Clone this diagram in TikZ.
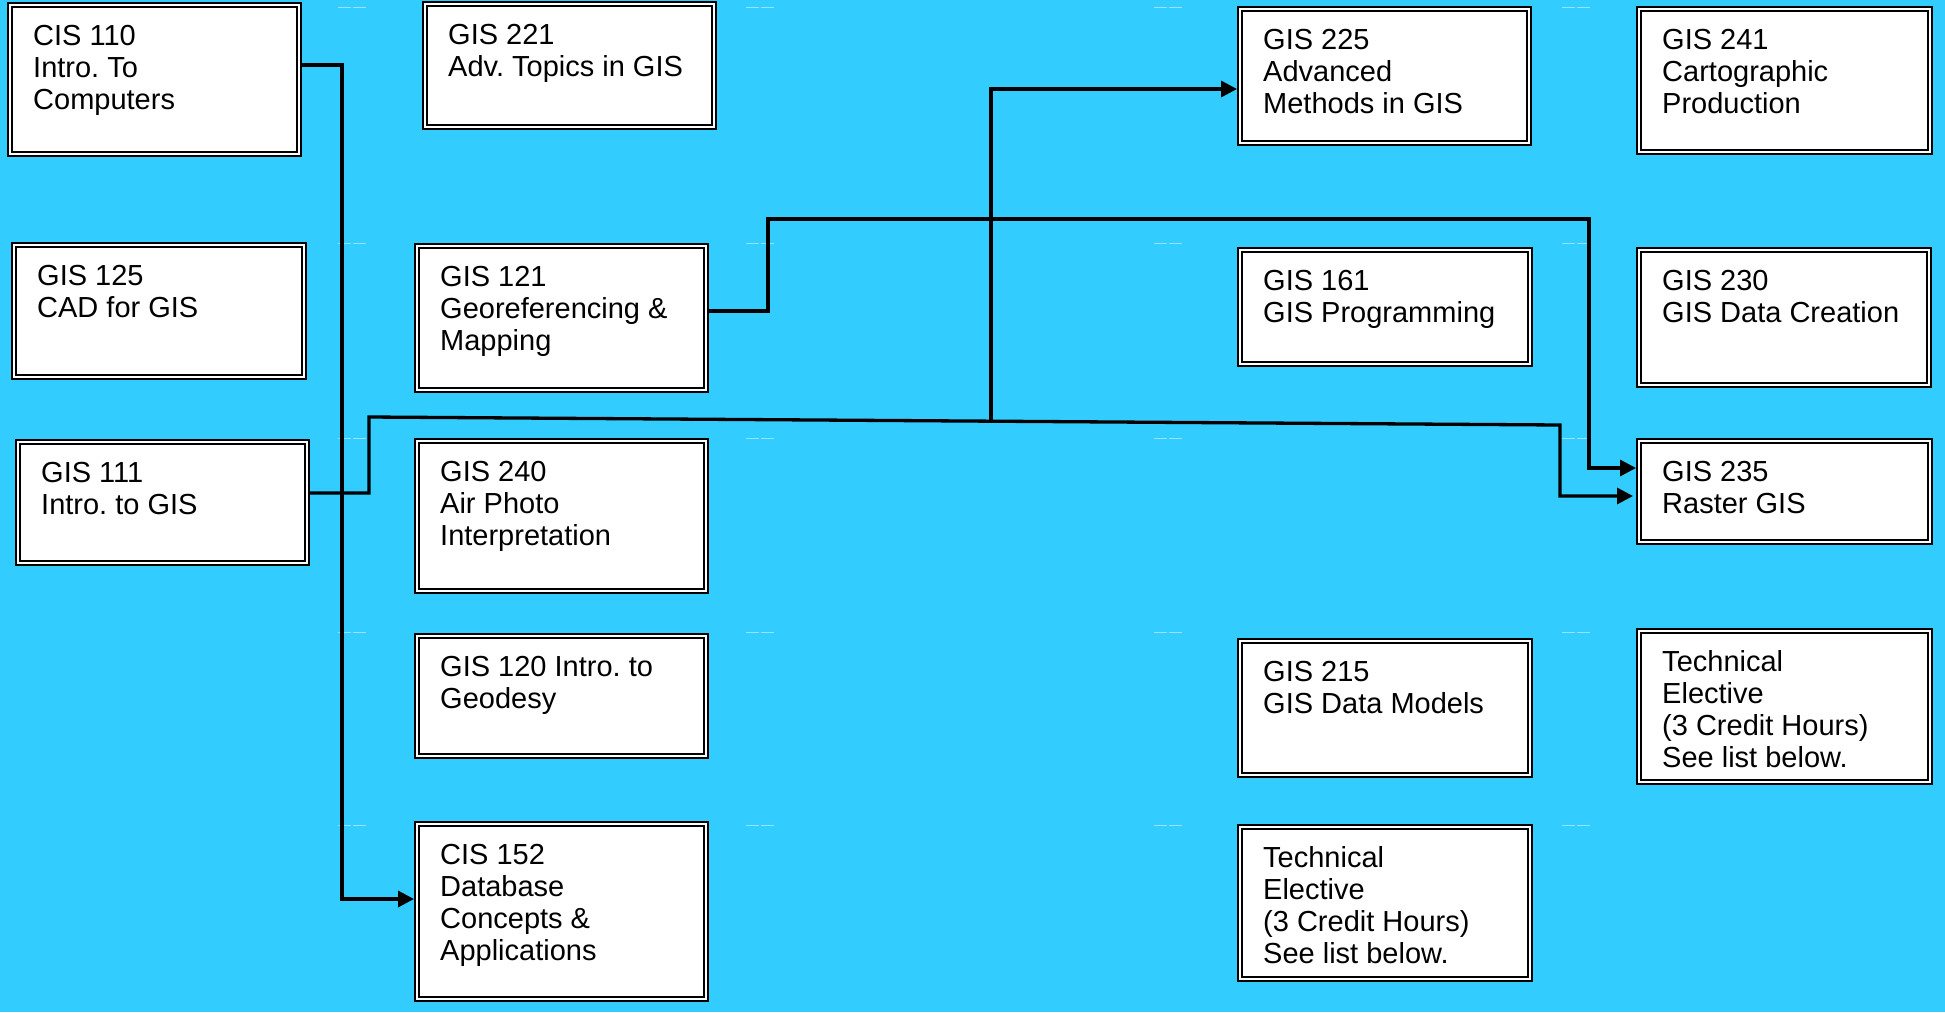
\documentclass[tikz,border=0pt]{standalone}
\usepackage{fontspec}
\setmainfont{Liberation Sans}
\usetikzlibrary{arrows.meta,calc}
\definecolor{bg}{RGB}{51,204,255}
\definecolor{faint}{RGB}{150,226,255}
\tikzset{
  course/.style={rectangle, draw=black, line width=2.3pt, double=white,
    double distance=1.8pt, fill=white, inner sep=0pt, outer sep=3.2pt},
  lbl/.style={anchor=base west, inner sep=0pt,
    font=\fontsize{29}{32}\selectfont\frenchspacing},
  conn/.style={line width=3.3pt, line join=miter},
  arr/.style={conn, -{Triangle[length=16pt,width=16pt]}},
  gridmark/.style={faint, line width=1pt, dash pattern=on 13pt off 2pt}
}
\newcommand\coursebox[6]{%
  \node[course, minimum width={#4-#2-6.4}, minimum height={#5-#3-6.4}]
    (#1) at ({(#2+#4)/2},{(#3+#5)/2}) {};
  \node[lbl] (#1-t) at ($(#1.north west)+(26,43.5)$)
    {\parbox[t]{280pt}{\raggedright #6}};
}
\begin{document}
\begin{tikzpicture}[x=1pt,y=-1pt]
\useasboundingbox (0,0) rectangle (1945,1012);
\fill[bg] (0,0) rectangle (1945,1012);
\foreach \x in {338,746,1154,1562}
  \foreach \y in {7,243,438,632,825}
    \draw[gridmark] (\x,\y) -- ++(28,0);

\coursebox{cis110}{7}{2}{302}{157}{CIS 110\\Intro. To\\Computers}
\coursebox{gis221}{422}{1}{717}{130}{GIS 221\\Adv. Topics in GIS}
\coursebox{gis225}{1237}{6}{1532}{146}{GIS 225\\Advanced\\Methods in GIS}
\coursebox{gis241}{1636}{6}{1933}{155}{GIS 241\\Cartographic\\Production}
\coursebox{gis125}{11}{242}{307}{380}{GIS 125\\CAD for GIS}
\coursebox{gis121}{414}{243}{709}{393}{GIS 121\\Georeferencing \&\\Mapping}
\coursebox{gis161}{1237}{247}{1533}{367}{GIS 161\\GIS Programming}
\coursebox{gis230}{1636}{247}{1932}{388}{GIS 230\\GIS Data Creation}
\coursebox{gis111}{15}{439}{310}{566}{GIS 111\\Intro. to GIS}
\coursebox{gis240}{414}{438}{709}{594}{GIS 240\\Air Photo\\Interpretation}
\coursebox{gis235}{1636}{438}{1933}{545}{GIS 235\\Raster GIS}
\coursebox{gis120}{414}{633}{709}{759}{GIS 120 Intro. to\\Geodesy}
\coursebox{gis215}{1237}{638}{1533}{778}{GIS 215\\GIS Data Models}
\coursebox{techa}{1636}{628}{1933}{785}{Technical\\Elective\\(3 Credit Hours)\\See list below.}
\coursebox{cis152}{414}{821}{709}{1002}{CIS 152\\Database\\Concepts \&\\Applications}
\coursebox{techb}{1237}{824}{1533}{982}{Technical\\Elective\\(3 Credit Hours)\\See list below.}

% CIS 110 -> CIS 152
\draw[arr] (cis110.east |- 0,65) -- (342,65) -- (342,899) -- (cis152.west |- 0,899);
% GIS 111 -> GIS 235
\draw[arr] (gis111.east |- 0,493) -- (369,493) -- (369,417)
  -- (1560,425) -- (1560,496) -- ([xshift=-3pt]gis235.west |- 0,496);
% branch -> GIS 225
\coordinate (j) at (991,421);
\draw[arr] (j) -- (991,89) -- (gis225.west |- 0,89);
% GIS 121 -> GIS 235
\draw[arr] (gis121.east |- 0,311) -- (768,311) -- (768,219)
  -- (1589,219) -- (1589,468) -- (gis235.west |- 0,468);
\end{tikzpicture}
\end{document}
